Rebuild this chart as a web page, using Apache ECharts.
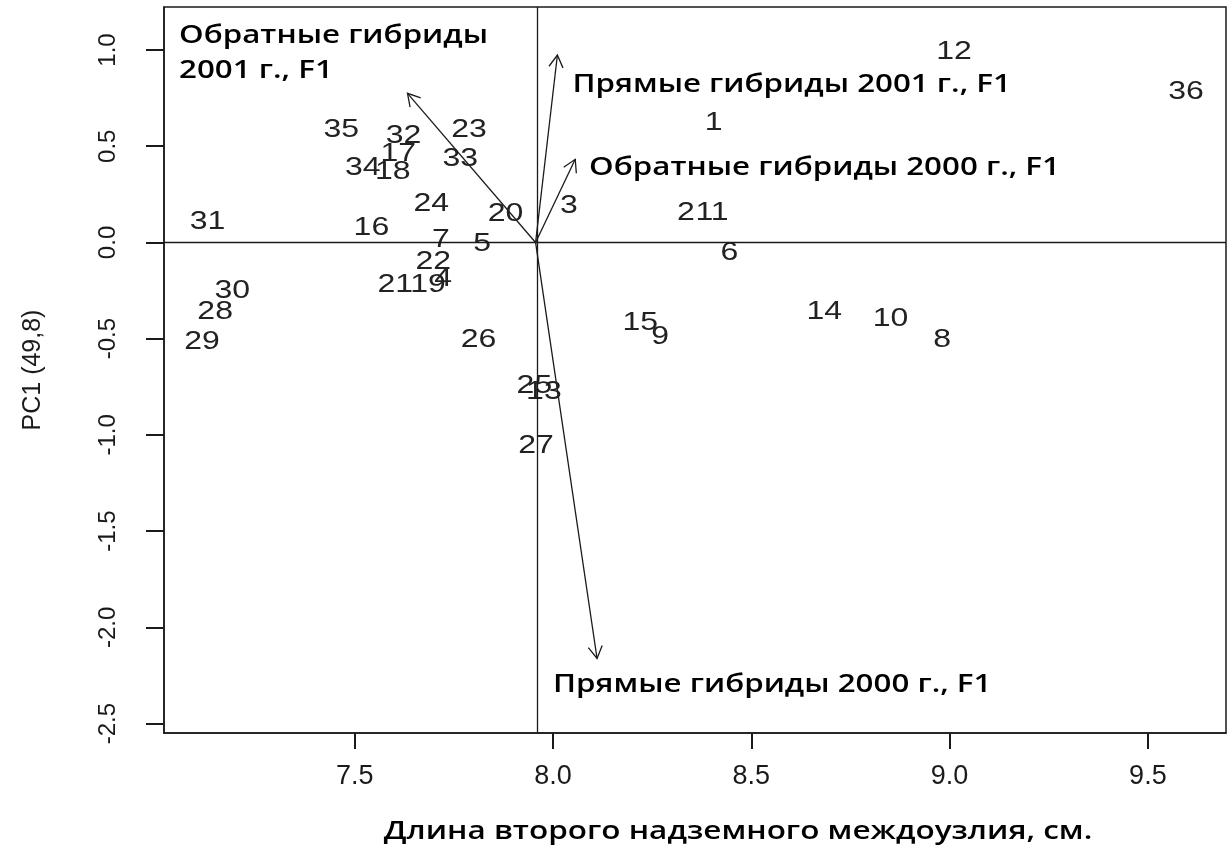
<!DOCTYPE html>
<html><head><meta charset="utf-8">
<script src="https://cdn.jsdelivr.net/npm/echarts@6/dist/echarts.min.js"></script>
<style>html,body{margin:0;padding:0;background:#fff}#c{width:1229px;height:845px}</style>
</head><body><div id="c"></div>
<script>
// ---- data ----
const pointLabels = ['1','2','3','4','5','6','7','8','9','10','11','12','13','14','15','16','17','18',
  '19','20','21','22','23','24','25','26','27','28','29','30','31','32','33','34','35','36'];
const pointX = [8.405,8.335,8.040,7.723,7.821,8.445,7.717,8.981,8.270,8.851,8.401,9.011,7.977,8.684,8.220,7.542,7.610,7.596,
  7.685,7.880,7.602,7.698,7.788,7.693,7.953,7.812,7.957,7.148,7.115,7.191,7.129,7.623,7.766,7.520,7.466,9.596];
const pointY = [0.622,0.154,0.191,-0.190,-0.007,-0.055,0.012,-0.509,-0.492,-0.397,0.154,0.990,-0.776,-0.362,-0.419,0.075,0.459,0.364,
  -0.221,0.149,-0.221,-0.099,0.586,0.200,-0.743,-0.504,-1.055,-0.362,-0.516,-0.253,0.106,0.555,0.435,0.387,0.584,0.783];

const arrowOriginX = 7.956;
const arrowOriginY = 0.0;
const arrowNames = ['Обратные гибриды 2001 г., F1','Прямые гибриды 2001 г., F1','Обратные гибриды 2000 г., F1','Прямые гибриды 2000 г., F1'];
const arrowTipX = [7.633, 8.011, 8.056, 8.111];
const arrowTipY = [0.775, 0.974, 0.432, -2.162];

const annotationText = ['Обратные гибриды\n2001 г., F1','Прямые гибриды 2001 г., F1','Обратные гибриды 2000 г., F1','Прямые гибриды 2000 г., F1'];
const annotationX = [7.057, 8.049, 8.091, 8.000];
const annotationY = [0.983, 0.818, 0.385, -2.300];

const xTicks = [7.5, 8.0, 8.5, 9.0, 9.5];
const yTicks = [-2.5, -2.0, -1.5, -1.0, -0.5, 0.0, 0.5, 1.0];
const xTitle = 'Длина второго надземного междоузлия, см.';
const yTitle = 'PC1 (49,8)';

// ---- chart ----
const chart = echarts.init(document.getElementById('c'), null, {renderer:'canvas'});
const ink = '#1a1a1a';
const numFont = '"Liberation Sans", Arial, sans-serif';
const txtFont = '"Open Sans", "Noto Sans", sans-serif';

const option = {
  backgroundColor: '#fff',
  animation: false,
  grid: {left:164, top:7, right:3, bottom:112, show:true, borderColor:ink, borderWidth:1.5, backgroundColor:'transparent', outerBoundsMode:'none'},
  xAxis: {
    type:'value', min:7.019, max:9.697, position:'bottom',
    axisLine:{show:true, onZero:false, lineStyle:{color:ink, width:1.5}}, splitLine:{show:false},
    axisTick:{show:true, length:16, customValues:xTicks, lineStyle:{color:ink, width:2}},
    axisLabel:{show:true, customValues:xTicks, margin:30, fontSize:27, fontFamily:numFont, color:ink, formatter:v=>v.toFixed(1)}
  },
  yAxis: {
    type:'value', min:-2.549, max:1.2235, position:'left',
    axisLine:{show:true, onZero:false, lineStyle:{color:ink, width:1.5}}, splitLine:{show:false},
    axisTick:{show:true, length:18, customValues:yTicks, lineStyle:{color:ink, width:2}},
    axisLabel:{show:true, customValues:yTicks, rotate:90, margin:44, fontSize:24, fontFamily:numFont, color:ink, formatter:v=>v.toFixed(1)},
    name: yTitle, nameLocation:'middle', nameRotate:90, nameGap:118,
    nameTextStyle:{fontSize:25, fontFamily:numFont, color:ink}
  },
  graphic: [{
    type:'text', x:738, y:832, scaleX:1.27,
    style:{text:xTitle, fontSize:24.8, fontWeight:600, fontFamily:txtFont, fill:'#000', align:'center', verticalAlign:'middle'}
  }],
  series: [
    {
      type:'line', data:[], silent:true,
      markLine:{symbol:'none', silent:true, label:{show:false},
        lineStyle:{color:ink, width:1.3, type:'solid'},
        data:[{yAxis:arrowOriginY},{xAxis:arrowOriginX}]}
    },
    {
      type:'custom', coordinateSystem:'cartesian2d', silent:true,
      encode:{x:[0,2], y:[1,3]},
      data: arrowTipX.map((x,i)=>[arrowOriginX, arrowOriginY, x, arrowTipY[i], i]),
      renderItem(params, api){
        const o = api.coord([api.value(0), api.value(1)]);
        const t = api.coord([api.value(2), api.value(3)]);
        const ang = Math.atan2(t[1]-o[1], t[0]-o[0]);
        const L = 14, a = Math.PI/6;
        const h1 = [t[0]-L*Math.cos(ang-a), t[1]-L*Math.sin(ang-a)];
        const h2 = [t[0]-L*Math.cos(ang+a), t[1]-L*Math.sin(ang+a)];
        return {type:'group', children:[
          {type:'line', shape:{x1:o[0],y1:o[1],x2:t[0],y2:t[1]}, style:{stroke:ink, lineWidth:1.3}},
          {type:'polyline', shape:{points:[h1,t,h2]}, style:{stroke:ink, lineWidth:1.3, fill:null}}
        ]};
      }
    },
    {
      type:'custom', coordinateSystem:'cartesian2d', silent:true,
      encode:{x:0, y:1},
      data: pointX.map((x,i)=>[x, pointY[i], i]),
      renderItem(params, api){
        const p = api.coord([api.value(0), api.value(1)]);
        return {type:'text', x:p[0], y:p[1], scaleX:1.25,
          style:{text:pointLabels[api.value(2)], fontSize:25.6, fontFamily:numFont, fill:'#222', align:'center', verticalAlign:'middle'}};
      }
    },
    {
      type:'custom', coordinateSystem:'cartesian2d', silent:true,
      encode:{x:0, y:1},
      data: annotationX.map((x,i)=>[x, annotationY[i], i]),
      renderItem(params, api){
        const p = api.coord([api.value(0), api.value(1)]);
        return {type:'text', x:p[0], y:p[1], scaleX:1.262,
          style:{text:annotationText[api.value(2)], fontSize:24.8, fontWeight:600, lineHeight:35, fontFamily:txtFont, fill:'#000', align:'left', verticalAlign:'middle'}};
      }
    }
  ]
};
chart.setOption(option);
</script>
</body></html>
